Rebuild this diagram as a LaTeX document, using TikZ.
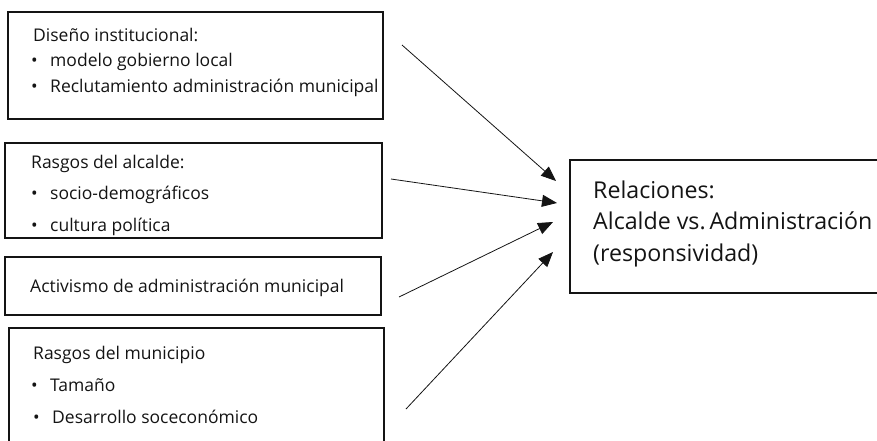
\documentclass[tikz,border=0pt]{standalone}
\usepackage{fontspec}
\setmainfont{Open Sans}
\usetikzlibrary{arrows.meta}
\definecolor{ink}{HTML}{141414}
\newcommand{\blt}{\llap{\makebox[19pt][l]{•}}}
\tikzset{
  box/.style={draw=ink, line width=1.1pt, rectangle, inner sep=0pt},
  txt/.style={anchor=base west, inner sep=0pt, text=ink, font=\fontsize{17.5}{20}\selectfont},
  bigtxt/.style={anchor=base west, inner sep=0pt, text=ink, font=\fontsize{23.2}{27}\selectfont},
  arr/.style={draw=ink, line width=0.8pt, -{Triangle[length=15pt,width=12pt]}}
}
\begin{document}
\begin{tikzpicture}[x=1pt,y=-1pt]
\useasboundingbox (0,0) rectangle (877,440);
\clip (0,0) rectangle (877,440);
% boxes
\node[box, minimum width=375pt, minimum height=107pt] (b1) at (195.5,65.5) {};
\node[box, minimum width=377pt, minimum height=95pt] (b2) at (193.5,190.5) {};
\node[box, minimum width=376pt, minimum height=58pt] (b3) at (193,286) {};
\node[box, minimum width=375pt, minimum height=130pt] (b4) at (196.5,393) {};
\node[box, minimum width=340pt, minimum height=133pt] (r) at (740,226.5) {};
% texts box 1
\node[txt] (t11) at (33,41) {Diseño institucional:};
\node[txt] (t12) at (50,66) {\blt modelo gobierno local};
\node[txt] (t13) at (50,92) {\blt Reclutamiento administración municipal};
% box 2
\node[txt] (t21) at (31,168) {Rasgos del alcalde:};
\node[txt] (t22) at (50,199) {\blt socio-demográficos};
\node[txt] (t23) at (50,231) {\blt cultura política};
% box 3
\node[txt] (t31) at (30,292) {Activismo de administración municipal};
% box 4
\node[txt] (t41) at (33,359) {Rasgos del municipio};
\node[txt] (t42) at (50,391) {\blt Tamaño};
\node[txt] (t43) at (52,423) {\blt Desarrollo soceconómico};
% right box
\node[bigtxt] (r1) at (593,198) {Relaciones:};
\node[bigtxt] (r2) at (593,229) {Alcalde vs.\,Administración};
\node[bigtxt] (r3) at (593,261) {(responsividad)};
% arrows
\coordinate (s1) at (402,45);
\coordinate (e1) at (556,181);
\coordinate (s2) at (391,179);
\coordinate (e2) at (557,203);
\coordinate (s3) at (399,297);
\coordinate (e3) at (553,222);
\coordinate (s4) at (406,409);
\coordinate (e4) at (553,252);
\draw[arr] (s1) -- (e1);
\draw[arr] (s2) -- (e2);
\draw[arr] (s3) -- (e3);
\draw[arr] (s4) -- (e4);
\end{tikzpicture}
\end{document}
